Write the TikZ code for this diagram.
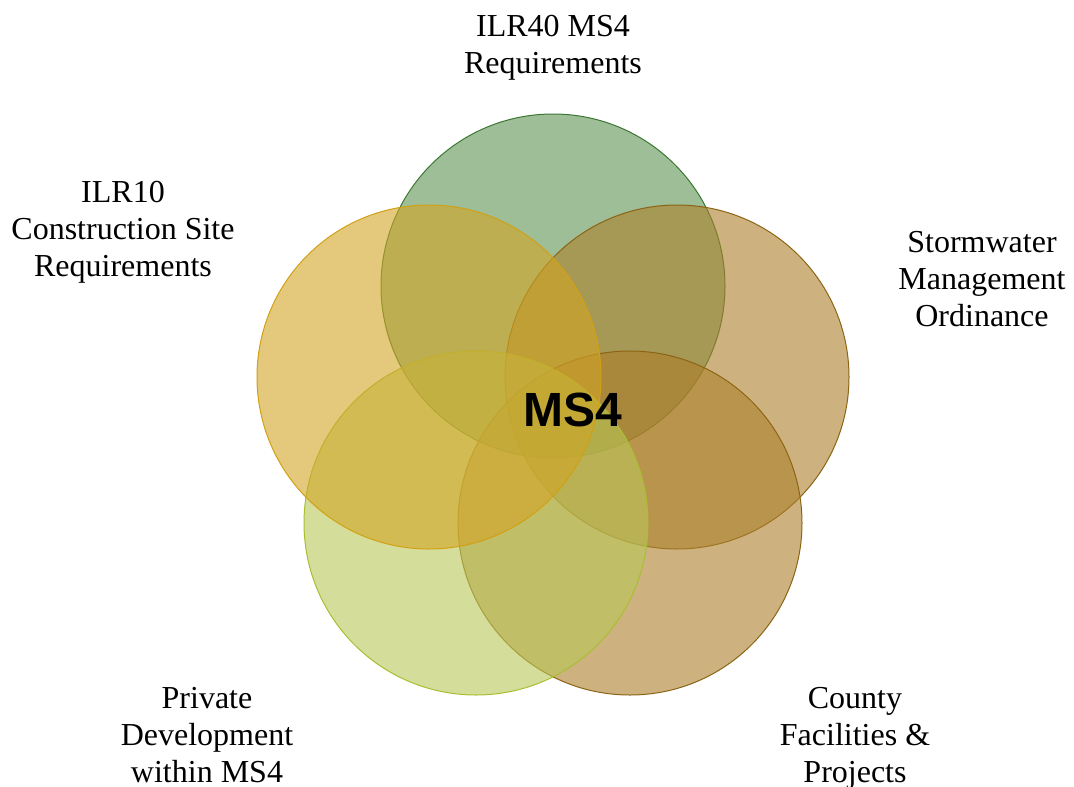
\documentclass[tikz,border=0pt]{standalone}
\usepackage{fontspec}
\setmainfont{Liberation Serif}
\setsansfont{Liberation Sans}
\usetikzlibrary{positioning}

\definecolor{greenfill}{RGB}{92,147,80}
\definecolor{greenedge}{RGB}{60,120,50}
\definecolor{goldfill}{RGB}{210,165,37}
\definecolor{goldedge}{RGB}{210,160,20}
\definecolor{tanfill}{RGB}{172,127,43}
\definecolor{tanedge}{RGB}{140,100,20}
\definecolor{limefill}{RGB}{185,198,88}
\definecolor{limeedge}{RGB}{170,190,50}

\begin{document}
\begin{tikzpicture}[
    x=0.75pt, y=-0.75pt,
    venn/.style={circle, draw, line width=0.75pt, minimum size=258pt, inner sep=0pt, fill opacity=0.6, draw opacity=1},
    label/.style={align=center, inner sep=0pt, font=\fontsize{24}{27.75}\selectfont},
    core/.style={font=\sffamily\bfseries\fontsize{36}{40}\selectfont}
]
\useasboundingbox (0,0) rectangle (1074,786);

% Circles
\node[venn, draw=greenedge, fill=greenfill] (ilrforty) at (553,286) {};
\node[venn, draw=tanedge, fill=tanfill] (ordinance) at (677,377) {};
\node[venn, draw=tanedge, fill=tanfill] (county) at (630,523) {};
\node[venn, draw=limeedge, fill=limefill] (private) at (476,523) {};
\node[venn, draw=goldedge, fill=goldfill] (ilrten) at (429,377) {};

% Centre
\node[core] (ms) at (573,410) {MS4};

% Labels
\node[label] (topl) at (553,48) {ILR40 MS4\\Requirements};
\node[label] (leftl) at (123,232) {ILR10\\Construction Site\\Requirements};
\node[label] (rightl) at (982,279) {Stormwater\\Management\\Ordinance};
\node[label] (brl) at (855,738) {County\\Facilities \&\\Projects};
\node[label] (bll) at (207,735) {Private\\Development\\within MS4};
\end{tikzpicture}
\end{document}
